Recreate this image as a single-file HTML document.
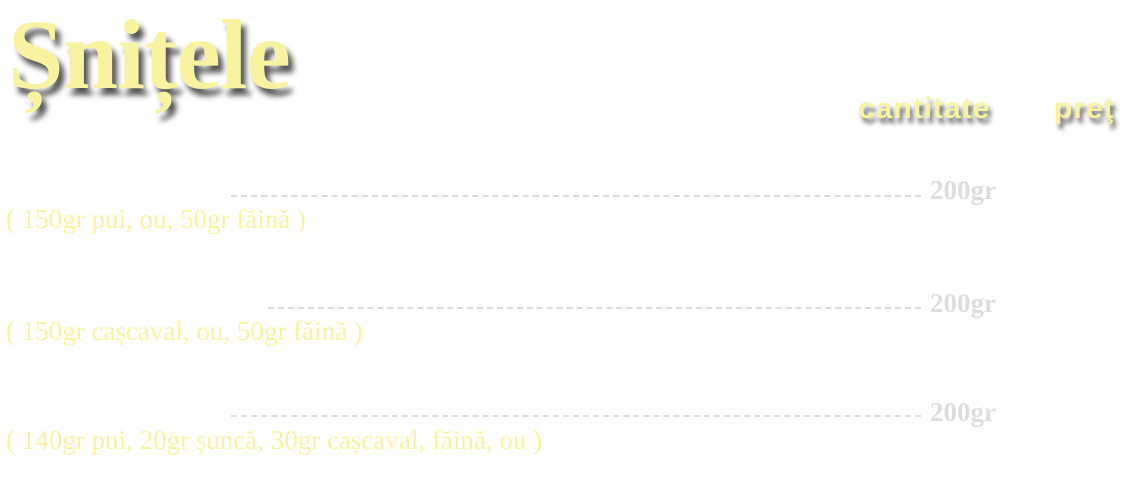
<!DOCTYPE html>
<html><head><meta charset="utf-8"><style>
body{margin:0;width:1139px;height:503px;background:#fff;position:relative;overflow:hidden;font-family:"Liberation Serif",serif}
.a{position:absolute;white-space:nowrap}
.t{left:8px;top:0px;font-size:100px;font-weight:bold;color:#f8f3a0;text-shadow:5px 7px 6px #555;line-height:110px;letter-spacing:-1px}
.h{font-family:"Liberation Sans",sans-serif;font-weight:bold;font-size:30px;color:#f8f3a0;text-shadow:3px 5px 5px #666;line-height:34px;letter-spacing:1px}
.d{border-top:2px dashed #ddd;height:0}
.g{font-size:27px;font-weight:bold;color:#ddd;line-height:28px}
.s{font-size:27px;color:#f8f3a0;left:6px;line-height:30px}
</style></head><body>
<div class="a t">Șnițele</div>
<div class="a h" style="left:858px;top:92px">cantitate</div>
<div class="a h" style="left:1054px;top:92px">preţ</div>
<div class="a d" style="left:231px;top:195px;width:690px"></div>
<div class="a g" style="left:930px;top:176px">200gr</div>
<div class="a s" style="top:204px">( 150gr pui, ou, 50gr făină )</div>
<div class="a d" style="left:268px;top:307px;width:653px"></div>
<div class="a g" style="left:930px;top:289px">200gr</div>
<div class="a s" style="top:316px">( 150gr cașcaval, ou, 50gr făină )</div>
<div class="a d" style="left:231px;top:415px;width:690px"></div>
<div class="a g" style="left:930px;top:398px">200gr</div>
<div class="a s" style="top:425px">( 140gr pui, 20gr șuncă, 30gr cașcaval, făină, ou )</div>
</body></html>
